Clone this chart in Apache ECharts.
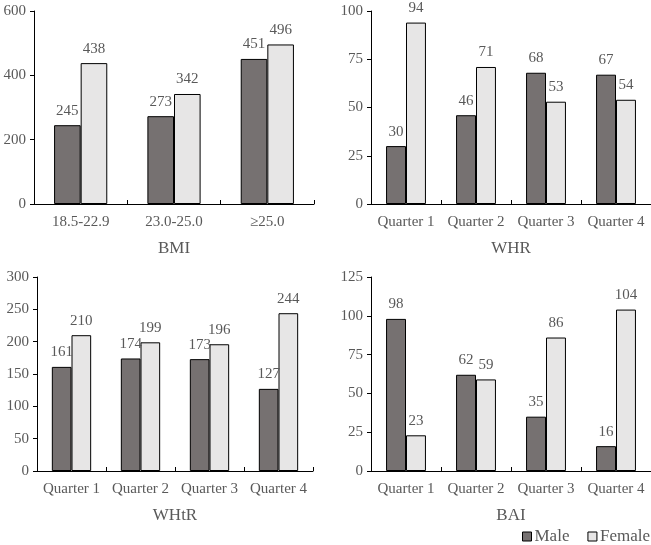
<!DOCTYPE html>
<html>
<head>
<meta charset="utf-8">
<script src="https://cdn.jsdelivr.net/npm/echarts@6/dist/echarts.min.js"></script>
<style>
  html, body { margin: 0; padding: 0; background: #fff; }
  #chart { width: 651px; height: 545px; }
</style>
</head>
<body>
<div id="chart"></div>
<script>
// data
const bmiCats = ['18.5-22.9', '23.0-25.0', '≥25.0'];
const quarterCats = ['Quarter 1', 'Quarter 2', 'Quarter 3', 'Quarter 4'];

const bmiMale = [245, 273, 451];
const bmiFemale = [438, 342, 496];
const whrMale = [30, 46, 68, 67];
const whrFemale = [94, 71, 53, 54];
const whtrMale = [161, 174, 173, 127];
const whtrFemale = [210, 199, 196, 244];
const baiMale = [98, 62, 35, 16];
const baiFemale = [23, 59, 86, 104];

const FONT = '"Liberation Serif", "Times New Roman", serif';
const TEXT = '#595959';
const MALE = '#767171';
const FEMALE = '#E7E6E6';

// one panel = grid + x axis + y axis
const panels = [
  { name: 'BMI', cats: bmiCats, male: bmiMale, female: bmiFemale, max: 600, step: 200,
    grid: { left: 34, top: 11, width: 280, height: 193 } },
  { name: 'WHR', cats: quarterCats, male: whrMale, female: whrFemale, max: 100, step: 25,
    grid: { left: 371, top: 11, width: 280, height: 193 } },
  { name: 'WHtR', cats: quarterCats, male: whtrMale, female: whtrFemale, max: 300, step: 50,
    grid: { left: 37, top: 277, width: 276, height: 194 } },
  { name: 'BAI', cats: quarterCats, male: baiMale, female: baiFemale, max: 125, step: 25,
    grid: { left: 371, top: 277, width: 280, height: 194 } },
];

const grid = [];
const xAxis = [];
const yAxis = [];
const series = [];

panels.forEach((p, i) => {
  grid.push(Object.assign({ containLabel: false }, p.grid));
  xAxis.push({
    type: 'category',
    gridIndex: i,
    data: p.cats,
    name: p.name,
    nameLocation: 'middle',
    nameGap: 36,
    nameTextStyle: { fontFamily: FONT, fontSize: 17, color: TEXT },
    axisLine: { lineStyle: { color: '#000', width: 1 } },
    axisTick: { show: true, inside: true, length: 4, alignWithLabel: false, lineStyle: { color: '#000' } },
    axisLabel: { fontFamily: FONT, fontSize: 15, color: TEXT, margin: 11, interval: 0 },
    splitLine: { show: false },
  });
  yAxis.push({
    type: 'value',
    gridIndex: i,
    min: 0,
    max: p.max,
    interval: p.step,
    axisLine: { show: true, lineStyle: { color: '#000', width: 1 } },
    axisTick: { show: true, length: 4, lineStyle: { color: '#000' } },
    axisLabel: { fontFamily: FONT, fontSize: 15, color: TEXT, margin: 8 },
    splitLine: { show: false },
  });
  const label = { show: true, position: 'top', distance: 7, fontFamily: FONT, fontSize: 15, color: TEXT };
  series.push({
    name: 'Male', type: 'bar', xAxisIndex: i, yAxisIndex: i, data: p.male,
    barGap: '0%', barCategoryGap: '43%',
    itemStyle: { color: MALE, borderColor: '#000', borderWidth: 1 },
    label: label,
  });
  series.push({
    name: 'Female', type: 'bar', xAxisIndex: i, yAxisIndex: i, data: p.female,
    barGap: '0%', barCategoryGap: '43%',
    itemStyle: { color: FEMALE, borderColor: '#000', borderWidth: 1 },
    label: label,
  });
});

const chart = echarts.init(document.getElementById('chart'), null, { renderer: 'canvas' });
chart.setOption({
  animation: false,
  backgroundColor: '#fff',
  textStyle: { fontFamily: FONT },
  grid: grid,
  xAxis: xAxis,
  yAxis: yAxis,
  legend: {
    data: ['Male', 'Female'],
    left: 522,
    top: 528,
    icon: 'rect',
    itemWidth: 9,
    itemHeight: 9,
    itemGap: 18,
    padding: 0,
    itemStyle: { borderColor: '#000', borderWidth: 1 },
    textStyle: { fontFamily: FONT, fontSize: 17, color: TEXT, padding: [0, 0, 0, -2] },
  },
  series: series,
});
</script>
</body>
</html>
